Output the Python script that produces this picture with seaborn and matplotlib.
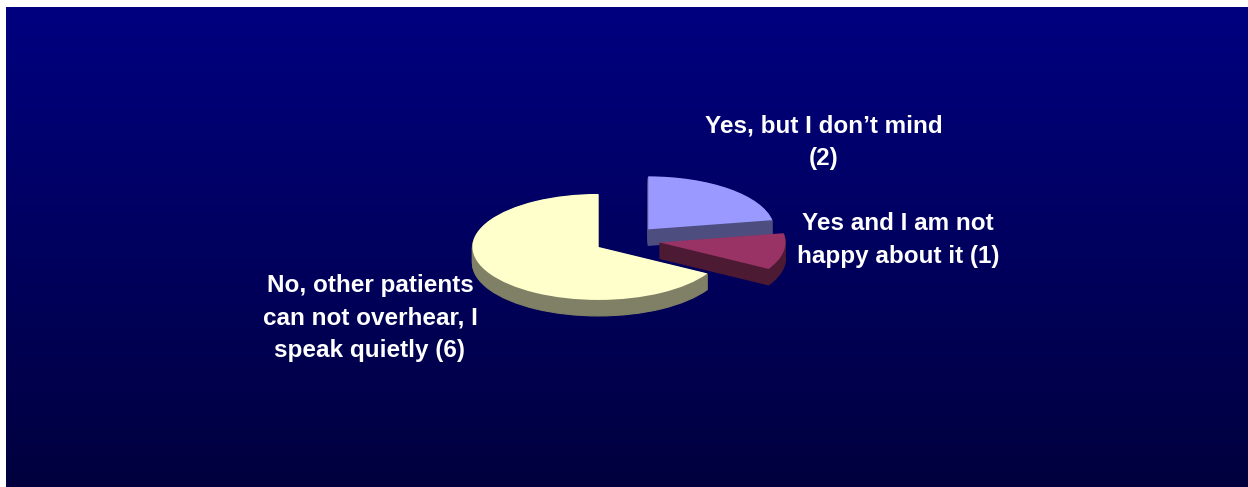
import numpy as np
import matplotlib
matplotlib.use("Agg")
import matplotlib.pyplot as plt
from matplotlib.colors import LinearSegmentedColormap
import seaborn as sns

# Survey answers and their counts
labels = [
    "Yes, but I don\u2019t mind\n(2)",
    "Yes and I am not\nhappy about it (1)",
    "No, other patients\ncan not overhear, I\nspeak quietly (6)",
]
counts = [2, 1, 6]
top_colors = ["#9999FF", "#993366", "#FFFFCC"]
side_colors = ["#4D4D80", "#4D1A33", "#808066"]

sns.set_style("white")
plt.rcParams["font.family"] = ["Liberation Sans", "DejaVu Sans"]

W, H = 1248, 487
fig = plt.figure(figsize=(W / 100, H / 100), dpi=100)
fig.patch.set_facecolor("white")

# Navy gradient backdrop
bg = fig.add_axes([6 / W, 0, 1 - 6 / W, 1 - 7 / H])
grad = np.linspace(0, 1, 256)[:, None]
cmap = LinearSegmentedColormap.from_list("navy", ["#000080", "#00003E"])
bg.imshow(grad, aspect="auto", cmap=cmap, extent=[0, 1, 0, 1], interpolation="bilinear")
bg.axis("off")

# Pie axes in pixel-like units; y compressed so the disc appears tilted
ax = fig.add_axes([0, 0, 1, 1])
ax.patch.set_alpha(0)
tilt = 53 / 126
radius = 126
depth_px = 16
cx, cy_px = 627, 240


def ydata(py):
    return (H - py) / tilt


explode = [33, 33, 33]
# back-to-front drawing order
order = [0, 1, 2]
for i in order:
    for k in range(depth_px, 0, -1):
        cols = [side_colors[j] if j == i else "none" for j in range(len(counts))]
        ax.pie(counts, explode=explode, colors=cols, startangle=90, counterclock=False,
               radius=radius, center=(cx, ydata(cy_px + k)), frame=True,
               wedgeprops=dict(linewidth=0.8, edgecolor="none"))
        for w, c in zip(ax.patches[-len(counts):], cols):
            w.set_edgecolor(c)
    cols = [top_colors[j] if j == i else "none" for j in range(len(counts))]
    ax.pie(counts, explode=explode, colors=cols, startangle=90, counterclock=False,
           radius=radius, center=(cx, ydata(cy_px)), frame=True,
           wedgeprops=dict(linewidth=0))

ax.set_xlim(0, W)
ax.set_ylim(0, H / tilt)
ax.set_aspect("auto")
ax.axis("off")

label_pos = [(824, 142), (898, 240), (370, 318)]
for text, (px, py) in zip(labels, label_pos):
    ax.text(px, ydata(py), text, ha="center", va="center", color="white",
            fontsize=17.5, fontweight="bold", linespacing=1.55, multialignment="center")

fig.savefig("out.png", dpi=100, facecolor=fig.get_facecolor())
